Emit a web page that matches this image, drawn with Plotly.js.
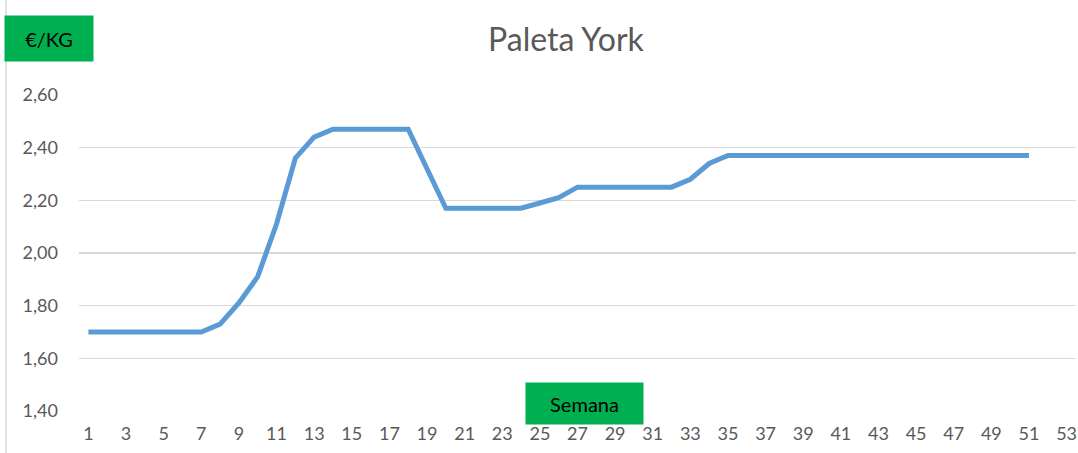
<!DOCTYPE html>
<html>
<head>
<meta charset="utf-8">
<script src="https://cdn.plot.ly/plotly-3.0.1.min.js"></script>
<style>html,body{margin:0;padding:0;background:#fff;}#chart{width:1078px;height:453px;}</style>
</head>
<body>
<div id="chart"></div>
<script>
var weeks = [];
for (var i = 1; i <= 51; i++) weeks.push(i);
var prices = [1.70,1.70,1.70,1.70,1.70,1.70,1.70,1.73,1.81,1.91,
              2.11,2.36,2.44,2.47,2.47,2.47,2.47,2.47,2.32,2.17,
              2.17,2.17,2.17,2.17,2.19,2.21,2.25,2.25,2.25,2.25,
              2.25,2.25,2.28,2.34,2.37,2.37,2.37,2.37,2.37,2.37,
              2.37,2.37,2.37,2.37,2.37,2.37,2.37,2.37,2.37,2.37,2.37];
var chartTitle = 'Paleta York';
var yLabel = '€/KG';
var xLabel = 'Semana';

var font = 'Lato, "Open Sans", sans-serif';
var L = 79, R = 1076, T = 94.7, B = 410.7;
var W = R - L, H = B - T;
function px(x){ return (x - L) / W; }
function py(y){ return (B - y) / H; }

Plotly.newPlot('chart', [{
  x: weeks, y: prices, type: 'scatter', mode: 'lines',
  line: {color: '#5B9BD5', width: 5},
  hoverinfo: 'skip'
}], {
  width: 1078, height: 453,
  margin: {l: L, r: 1078 - R, t: T, b: 453 - B, pad: 0},
  paper_bgcolor: '#fff', plot_bgcolor: '#fff',
  separators: ',.',
  showlegend: false,
  font: {family: font, color: '#595959', size: 16},
  title: {text: chartTitle, x: 0.525, xanchor: 'center', y: 0.912, yanchor: 'middle',
          font: {family: font, size: 32, color: '#595959'}},
  xaxis: {range: [0.5, 53.5], tick0: 1, dtick: 2, tickmode: 'linear',
          showgrid: false, zeroline: false, showline: false, ticks: '',
          ticklabelstandoff: 10, tickfont: {size: 18, color: '#595959'}},
  yaxis: {range: [1.4, 2.6], dtick: 0.2, tick0: 1.4, tickformat: '.2f',
          showgrid: true, gridcolor: '#d9d9d9', gridwidth: 1.5,
          zeroline: false, showline: false, ticks: '',
          ticklabelstandoff: 20, tickfont: {size: 18, color: '#595959'}},
  shapes: [{type: 'line', xref: 'paper', yref: 'paper',
            x0: px(6), x1: px(6), y0: py(0), y1: py(453),
            line: {color: '#d9d9d9', width: 1.5}}],
  annotations: [
    {text: yLabel, xref: 'paper', yref: 'paper', x: px(49), y: py(38.5),
     xanchor: 'center', yanchor: 'middle', showarrow: false,
     width: 86, height: 43, bgcolor: '#00B050',
     font: {family: font, size: 20, color: '#000'}},
    {text: xLabel, xref: 'paper', yref: 'paper', x: px(584.5), y: py(403.5),
     xanchor: 'center', yanchor: 'middle', showarrow: false,
     width: 115, height: 39, bgcolor: '#00B050',
     font: {family: font, size: 20, color: '#000'}}
  ]
}, {displayModeBar: false, staticPlot: true});
</script>
</body>
</html>
